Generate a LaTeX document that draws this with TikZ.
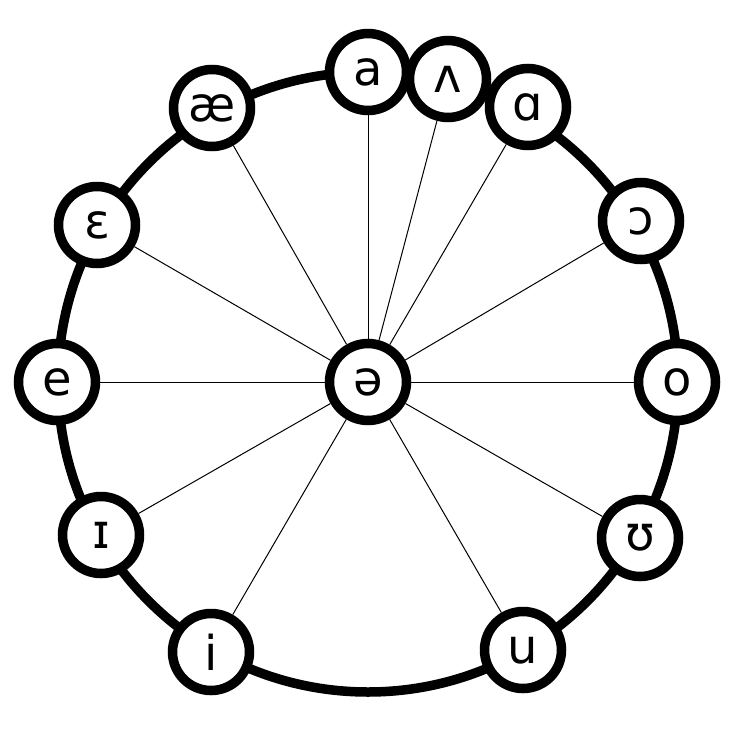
\documentclass[tikz,border=0pt]{standalone}
\usepackage{fontspec}
\setmainfont{DejaVu Sans}
\begin{document}
\begin{tikzpicture}[x=1pt,y=-1pt,
  vowel/.style={circle,draw=black,fill=white,line width=9.5pt,minimum size=77pt,inner sep=0pt,font=\fontsize{48}{48}\selectfont},
  ring/.style={line width=9.5pt,draw=black},
  spoke/.style={line width=1pt,draw=black}]
\useasboundingbox[fill=white] (0,0) rectangle (736,736);
\coordinate (O) at (368,382);
\draw[ring] (O) circle[radius=310pt];
\node[vowel] (schwa) at (368,382) {ə};
\node[vowel] (a) at (368,72) {a};
\node[vowel] (v) at (448,79) {ʌ};
\node[vowel] (A) at (528,107) {ɑ};
\node[vowel] (Oo) at (641,221) {ɔ};
\node[vowel] (o) at (677,382) {o};
\node[vowel] (U) at (640,538) {ʊ};
\node[vowel] (u) at (523,650) {u};
\node[vowel] (i) at (211,652) {i};
\node[vowel] (I) at (101,535) {ɪ};
\node[vowel] (e) at (57,382) {e};
\node[vowel] (E) at (97,225) {ɛ};
\node[vowel] (ae) at (212,108) {æ};
\foreach \n in {a,v,A,Oo,o,U,u,i,I,e,E,ae}
  \draw[spoke] (schwa) -- (\n);
\end{tikzpicture}
\end{document}
